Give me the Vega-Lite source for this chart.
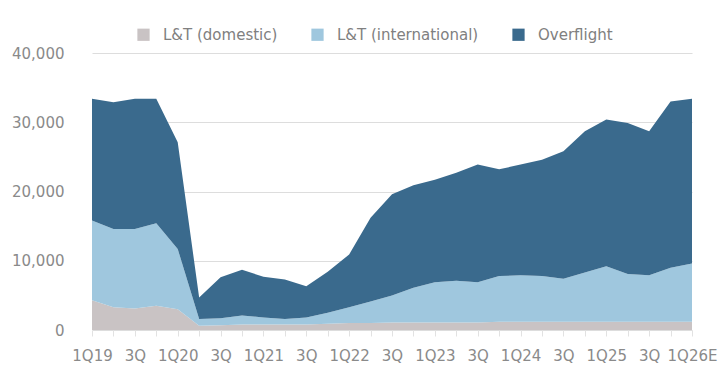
{
  "$schema": "https://vega.github.io/schema/vega-lite/v6.json",
  "width": 600,
  "height": 277,
  "autosize": {"type": "none"},
  "padding": {"left": 92, "top": 53, "right": 28, "bottom": 44},
  "background": "white",
  "config": {
    "view": {"stroke": null},
    "font": "DejaVu Sans",
    "axis": {"labelFont": "DejaVu Sans", "labelFontSize": 15, "labelColor": "#8a8a8a"},
    "legend": {"labelFont": "DejaVu Sans", "labelFontSize": 15, "labelColor": "#808080"}
  },
  "data": {"values": [
    {"q":"1Q19","s":"L&T (domestic)","v":4300},{"q":"1Q19","s":"L&T (international)","v":11500},{"q":"1Q19","s":"Overflight","v":17600},
    {"q":"2Q19","s":"L&T (domestic)","v":3300},{"q":"2Q19","s":"L&T (international)","v":11300},{"q":"2Q19","s":"Overflight","v":18300},
    {"q":"3Q19","s":"L&T (domestic)","v":3100},{"q":"3Q19","s":"L&T (international)","v":11500},{"q":"3Q19","s":"Overflight","v":18800},
    {"q":"4Q19","s":"L&T (domestic)","v":3500},{"q":"4Q19","s":"L&T (international)","v":11900},{"q":"4Q19","s":"Overflight","v":18000},
    {"q":"1Q20","s":"L&T (domestic)","v":3000},{"q":"1Q20","s":"L&T (international)","v":8700},{"q":"1Q20","s":"Overflight","v":15400},
    {"q":"2Q20","s":"L&T (domestic)","v":600},{"q":"2Q20","s":"L&T (international)","v":1000},{"q":"2Q20","s":"Overflight","v":3100},
    {"q":"3Q20","s":"L&T (domestic)","v":700},{"q":"3Q20","s":"L&T (international)","v":1000},{"q":"3Q20","s":"Overflight","v":5900},
    {"q":"4Q20","s":"L&T (domestic)","v":800},{"q":"4Q20","s":"L&T (international)","v":1300},{"q":"4Q20","s":"Overflight","v":6600},
    {"q":"1Q21","s":"L&T (domestic)","v":800},{"q":"1Q21","s":"L&T (international)","v":1000},{"q":"1Q21","s":"Overflight","v":5900},
    {"q":"2Q21","s":"L&T (domestic)","v":800},{"q":"2Q21","s":"L&T (international)","v":800},{"q":"2Q21","s":"Overflight","v":5700},
    {"q":"3Q21","s":"L&T (domestic)","v":800},{"q":"3Q21","s":"L&T (international)","v":1000},{"q":"3Q21","s":"Overflight","v":4500},
    {"q":"4Q21","s":"L&T (domestic)","v":900},{"q":"4Q21","s":"L&T (international)","v":1600},{"q":"4Q21","s":"Overflight","v":5900},
    {"q":"1Q22","s":"L&T (domestic)","v":1000},{"q":"1Q22","s":"L&T (international)","v":2300},{"q":"1Q22","s":"Overflight","v":7600},
    {"q":"2Q22","s":"L&T (domestic)","v":1000},{"q":"2Q22","s":"L&T (international)","v":3100},{"q":"2Q22","s":"Overflight","v":12100},
    {"q":"3Q22","s":"L&T (domestic)","v":1100},{"q":"3Q22","s":"L&T (international)","v":3900},{"q":"3Q22","s":"Overflight","v":14600},
    {"q":"4Q22","s":"L&T (domestic)","v":1100},{"q":"4Q22","s":"L&T (international)","v":5000},{"q":"4Q22","s":"Overflight","v":14800},
    {"q":"1Q23","s":"L&T (domestic)","v":1100},{"q":"1Q23","s":"L&T (international)","v":5800},{"q":"1Q23","s":"Overflight","v":14800},
    {"q":"2Q23","s":"L&T (domestic)","v":1100},{"q":"2Q23","s":"L&T (international)","v":6000},{"q":"2Q23","s":"Overflight","v":15600},
    {"q":"3Q23","s":"L&T (domestic)","v":1100},{"q":"3Q23","s":"L&T (international)","v":5800},{"q":"3Q23","s":"Overflight","v":17000},
    {"q":"4Q23","s":"L&T (domestic)","v":1200},{"q":"4Q23","s":"L&T (international)","v":6600},{"q":"4Q23","s":"Overflight","v":15400},
    {"q":"1Q24","s":"L&T (domestic)","v":1200},{"q":"1Q24","s":"L&T (international)","v":6700},{"q":"1Q24","s":"Overflight","v":16000},
    {"q":"2Q24","s":"L&T (domestic)","v":1200},{"q":"2Q24","s":"L&T (international)","v":6600},{"q":"2Q24","s":"Overflight","v":16800},
    {"q":"3Q24","s":"L&T (domestic)","v":1200},{"q":"3Q24","s":"L&T (international)","v":6200},{"q":"3Q24","s":"Overflight","v":18400},
    {"q":"4Q24","s":"L&T (domestic)","v":1200},{"q":"4Q24","s":"L&T (international)","v":7100},{"q":"4Q24","s":"Overflight","v":20400},
    {"q":"1Q25","s":"L&T (domestic)","v":1200},{"q":"1Q25","s":"L&T (international)","v":8000},{"q":"1Q25","s":"Overflight","v":21200},
    {"q":"2Q25","s":"L&T (domestic)","v":1200},{"q":"2Q25","s":"L&T (international)","v":6900},{"q":"2Q25","s":"Overflight","v":21800},
    {"q":"3Q25","s":"L&T (domestic)","v":1200},{"q":"3Q25","s":"L&T (international)","v":6700},{"q":"3Q25","s":"Overflight","v":20800},
    {"q":"4Q25","s":"L&T (domestic)","v":1200},{"q":"4Q25","s":"L&T (international)","v":7800},{"q":"4Q25","s":"Overflight","v":24000},
    {"q":"1Q26E","s":"L&T (domestic)","v":1200},{"q":"1Q26E","s":"L&T (international)","v":8400},{"q":"1Q26E","s":"Overflight","v":23800}
  ]},
  "mark": {"type": "area", "opacity": 1, "interpolate": "linear"},
  "encoding": {
    "x": {
      "field": "q", "type": "ordinal", "sort": null,
      "scale": {"type": "point", "padding": 0},
      "axis": {
        "title": null, "labelAngle": 0, "labelOverlap": false,
        "domain": false, "tickColor": "#e2e2e2", "tickSize": 6, "labelPadding": 12,
        "labelExpr": "(slice(datum.value,0,2)=='2Q' || slice(datum.value,0,2)=='4Q') ? '' : (slice(datum.value,0,2)=='3Q' ? '3Q' : datum.value)"
      }
    },
    "y": {
      "field": "v", "type": "quantitative", "stack": "zero",
      "scale": {"domain": [0, 40000]},
      "axis": {
        "title": null, "values": [0, 10000, 20000, 30000, 40000], "format": ",.0f",
        "domain": false, "ticks": false, "labelPadding": 28,
        "gridColor": "#dddddd", "gridWidth": 1
      }
    },
    "color": {
      "field": "s", "type": "nominal",
      "scale": {
        "domain": ["L&T (domestic)", "L&T (international)", "Overflight"],
        "range": ["#c9c3c4", "#9fc7de", "#3a6a8d"]
      },
      "legend": {
        "title": null, "orient": "none", "direction": "horizontal",
        "legendX": 44, "legendY": -26,
        "symbolType": "square", "symbolSize": 150, "symbolStrokeWidth": 0,
        "symbolOpacity": 1, "labelOffset": 12, "columnPadding": 32
      }
    },
    "order": {"field": "s", "sort": "ascending"}
  }
}
